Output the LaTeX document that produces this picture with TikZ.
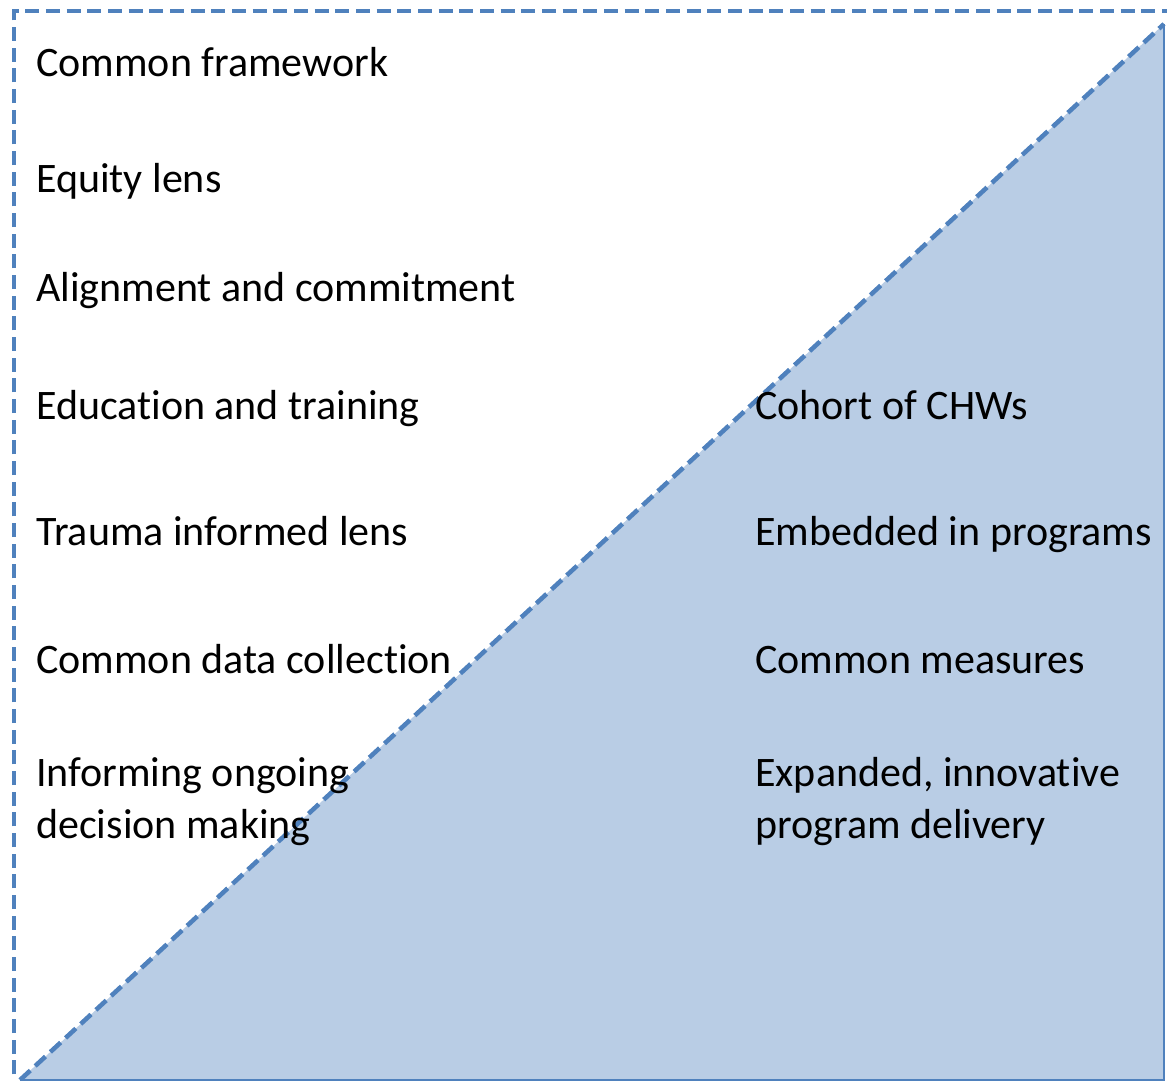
\documentclass[tikz,border=0pt]{standalone}
\usepackage{fontspec}
\setmainfont{Carlito}[Ligatures={NoCommon}, RawFeature=-calt, RawFeature=-clig, RawFeature=-dlig, RawFeature=-liga]
\definecolor{edgeblue}{RGB}{79,129,189}
\definecolor{fillblue}{RGB}{185,205,229}
\tikzset{item/.style={anchor=base west, inner sep=0pt, align=left,
  font=\fontsize{31.5}{38.4}\selectfont}}
\tikzset{dashedge/.style={edgeblue, line width=3.4pt, dash pattern=on 10.5pt off 5pt}}

\begin{document}
\begin{tikzpicture}[x=0.75pt, y=-0.75pt]
\useasboundingbox (0,0) rectangle (1167,1081);
% shaded triangle
\fill[fillblue] (20,1080) -- (1164,24) -- (1164,1080) -- cycle;
\draw[edgeblue, line width=1.8pt] (1164,24) -- (1164,1080) -- (20,1080);
\draw[dashedge] (20,1080) -- (1164,24);
% outer frame
\draw[dashedge] (14,1095) |- (1180,11);

\node[item] (frame)   at (36,77)  {Common framework};
\node[item] (equity)  at (36,192) {Equity lens};
\node[item] (align)   at (36,301) {Alignment and commitment};
\node[item] (educ)    at (36,419) {Education and training};
\node[item] (trauma)  at (36,545) {Trauma informed lens};
\node[item] (data)    at (36,673) {Common data collection};
\node[item] (inform)  at (36,838) {Informing ongoing\\decision making};

\node[item] (cohort)  at (755,419) {Cohort of CHWs};
\node[item] (embed)   at (755,545) {Embedded in programs};
\node[item] (measure) at (755,673) {Common measures};
\node[item] (deliver) at (755,838) {Expanded, innovative\\program delivery};
\end{tikzpicture}
\end{document}
